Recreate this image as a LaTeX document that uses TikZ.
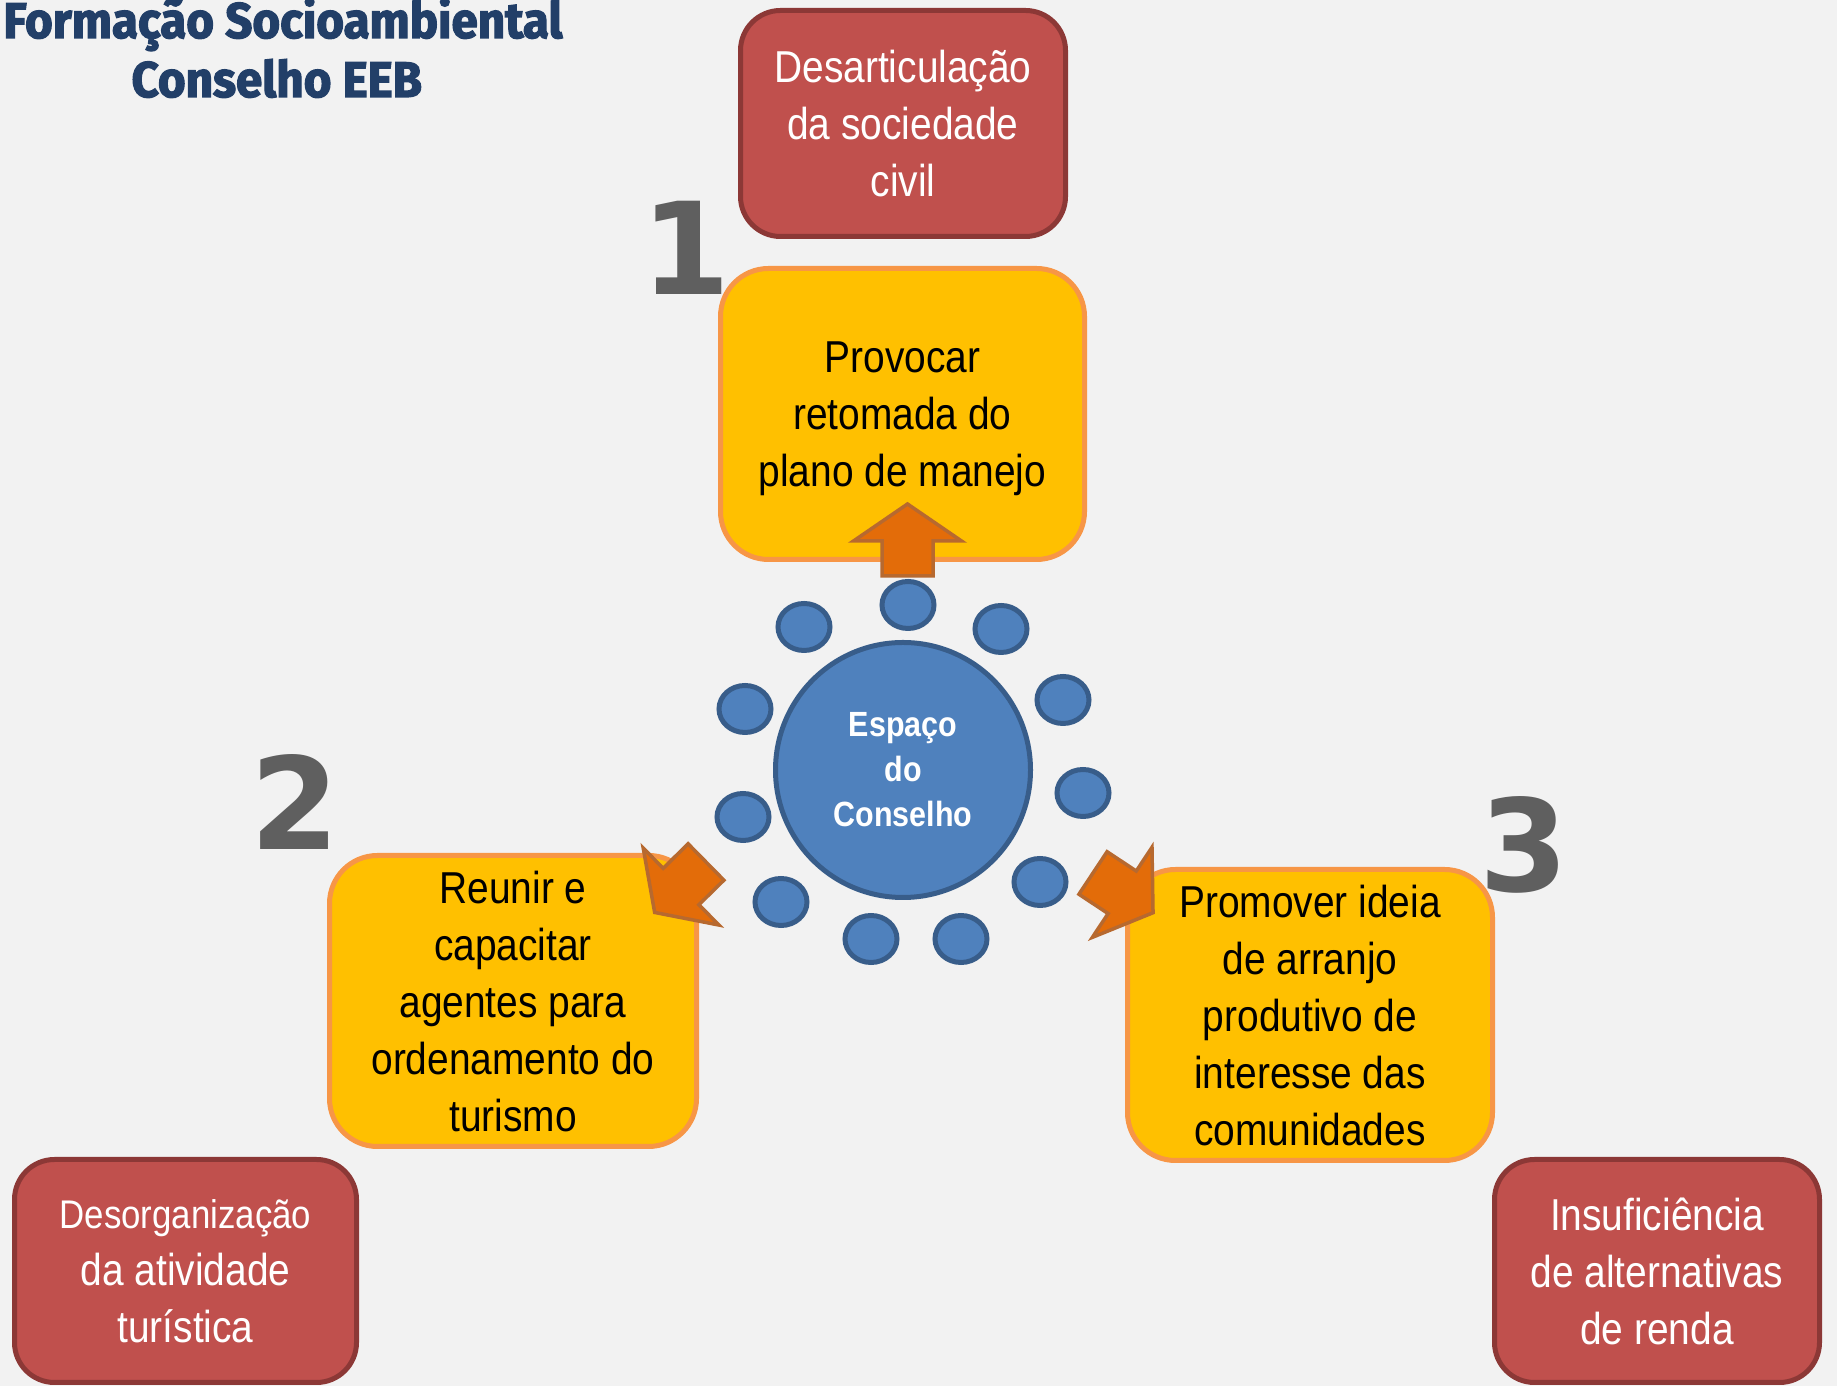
\documentclass[tikz,border=0pt]{standalone}
\usepackage{fontspec}
\setmainfont{Liberation Sans}[FakeStretch=0.87]
\newfontfamily\numfont{DejaVu Sans}
\newfontfamily\titlefont{Fira Sans}[FakeStretch=0.95,FakeBold=2.5]
\usetikzlibrary{shapes.geometric}

\definecolor{fundo}{HTML}{F2F2F2}
\definecolor{amarelo}{HTML}{FFC000}
\definecolor{laranja}{HTML}{F79646}
\definecolor{vermelho}{HTML}{C0504D}
\definecolor{vermelhoesc}{HTML}{8C3836}
\definecolor{azul}{HTML}{4F81BD}
\definecolor{azulesc}{HTML}{385D8A}
\definecolor{corseta}{HTML}{E36C09}
\definecolor{bordaseta}{HTML}{B7692F}
\definecolor{marinho}{HTML}{223F68}
\definecolor{cinza}{HTML}{5F5F5F}

\tikzset{
  acao/.style={draw=laranja, fill=amarelo, line width=5pt, rounded corners=48pt,
    align=center, inner sep=0pt, minimum height=291pt, text depth=0pt,
    font=\fontsize{44.7}{57}\selectfont},
  problema/.style={draw=vermelhoesc, fill=vermelho, line width=5pt, rounded corners=40pt,
    align=center, inner sep=0pt, text=white,
    font=\fontsize{44.7}{57}\selectfont},
  assento/.style={ellipse, draw=azulesc, fill=azul, line width=5pt,
    minimum width=52pt, minimum height=47pt, inner sep=0pt},
  mesa/.style={circle, draw=azulesc, fill=azul, line width=5pt, minimum size=255pt,
    inner sep=0pt, align=center, text=white,
    font=\bfseries\fontsize{35}{45}\selectfont},
  numero/.style={anchor=base, text=cinza, font=\numfont\bfseries\fontsize{128}{128}\selectfont},
  titulo/.style={anchor=base west, text=marinho, font=\titlefont\bfseries\fontsize{50}{50}\selectfont},
  blocoseta/.pic={\draw[line width=3.5pt, draw=bordaseta, fill=corseta, line join=miter]
    (0,-25.5) -- (35,-25.5) -- (35,-54) -- (72,0) -- (35,54) -- (35,25.5) -- (0,25.5) -- cycle;}
}

\begin{document}
\begin{tikzpicture}[x=1pt,y=1pt]
\useasboundingbox (0,0) rectangle (1837,1386);
\fill[fundo] (0,0) rectangle (1837,1386);

% titulo
\node[titulo] (titulo1) at (0,1348) {Formação Socioambiental};
\node[titulo] (titulo2) at (128,1289) {Conselho EEB};

% problemas
\node[problema, minimum width=325pt, minimum height=226pt] (prob1) at (903,1262.5)
  {Desarticulação\\da sociedade\\civil};
\node[problema, minimum width=342pt, minimum height=223pt] (prob2) at (185.5,115)
  {{\fontsize{40}{57}\selectfont Desorganização}\\da atividade\\turística};
\node[problema, minimum width=325pt, minimum height=223pt] (prob3) at (1657,115)
  {Insuficiência\\de alternativas\\de renda};

% acoes
\node[acao, minimum width=364pt] (acao1) at (902.5,972)
  {Provocar\\retomada do\\plano de manejo};
\node[acao, minimum width=367pt] (acao2) at (513,385)
  {Reunir e\\capacitar\\agentes para\\ordenamento do\\turismo};
\node[acao, minimum width=365pt] (acao3) at (1310,371)
  {Promover ideia\\de arranjo\\produtivo de\\interesse das\\comunidades};

% numeros
\node[numero] (n1) at (686,1091) {1};
\node[numero] (n2) at (295,536) {2};
\node[numero] (n3) at (1524,494) {3};

% espaco do conselho
\node[mesa] (espaco) at (903,616) {Espaço\\do\\Conselho};
\foreach \x/\y [count=\i] in {908/781, 804/759, 1001/757, 745/677, 1063/686, 743/569,
    1083/593, 781/484, 1040/504, 871/447, 961/447}
  \node[assento] (s\i) at (\x,\y) {};

% setas
\pic[rotate=90] at (907.5,810) {blocoseta};
\pic[rotate=224.5] at (706,524) {blocoseta};
\pic[rotate=-33.5] at (1093,513) {blocoseta};
\end{tikzpicture}
\end{document}
